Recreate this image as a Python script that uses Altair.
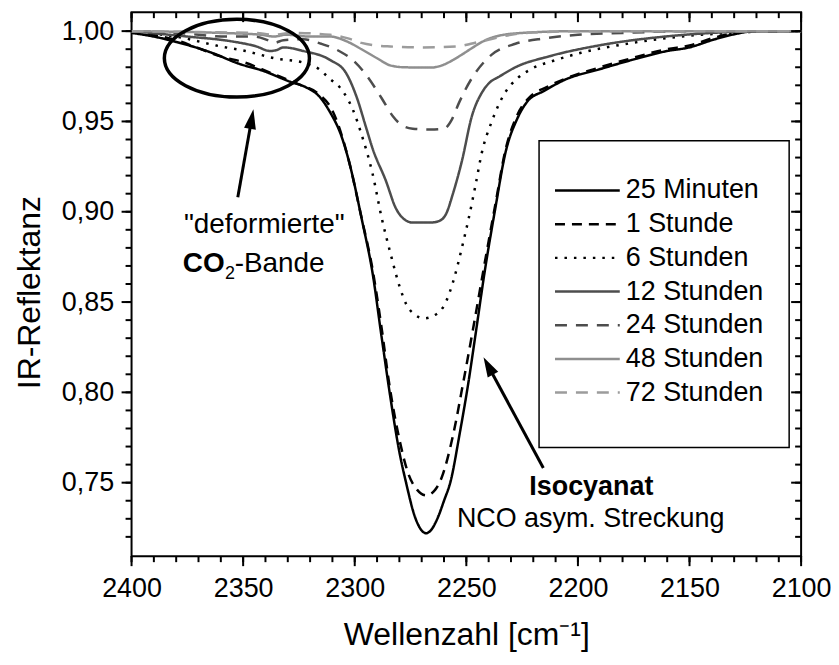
import math
import altair as alt
import pandas as pd

# ---------------- data ----------------
series_names = ["25 Minuten", "1 Stunde", "6 Stunden", "12 Stunden",
                "24 Stunden", "48 Stunden", "72 Stunden"]
series_colors = ["#000000", "#000000", "#000000", "#4d4d4d",
                 "#4d4d4d", "#8f8f8f", "#9c9c9c"]
series_dashes = [[1, 0], [10, 7], [2.5, 7], [1, 0], [12, 9], [1, 0], [12, 9]]

wn_25min = [2400, 2390, 2380, 2370, 2364, 2352, 2341, 2329, 2322, 2316, 2311, 2306, 2302.6, 2296.7,
            2292, 2288, 2284, 2280, 2277, 2273, 2270, 2268, 2266, 2263, 2260, 2257, 2253, 2249, 2246,
            2241.5, 2237, 2232.6, 2227, 2222.7, 2215, 2206, 2190, 2176, 2160, 2150, 2140, 2131, 2120, 2100]
r_25min = [0.999, 0.997, 0.994, 0.9905, 0.988, 0.982, 0.978, 0.972, 0.969, 0.964, 0.955, 0.942, 0.928, 0.895,
           0.866, 0.831, 0.797, 0.767, 0.750, 0.731, 0.7235, 0.722, 0.7235, 0.730, 0.740, 0.751, 0.777, 0.806,
           0.831, 0.869, 0.902, 0.932, 0.952, 0.961, 0.967, 0.973, 0.979, 0.984, 0.989, 0.991, 0.995, 0.998,
           1.0, 1.0]

wn_1h = [2400, 2390, 2380, 2371, 2360, 2349, 2338, 2325, 2316, 2310, 2306, 2303, 2297, 2292, 2288, 2284.7,
         2280, 2276, 2272, 2268, 2264, 2261, 2256, 2251.3, 2247, 2242, 2237, 2232.5, 2227, 2222, 2214, 2205,
         2190, 2176, 2160, 2150, 2140, 2130, 2120, 2100]
r_1h = [1.0, 0.998, 0.995, 0.991, 0.986, 0.9825, 0.977, 0.9705, 0.965, 0.956, 0.943, 0.930, 0.897, 0.868,
        0.836, 0.806, 0.774, 0.755, 0.746, 0.743, 0.746, 0.753, 0.776, 0.806, 0.835, 0.870, 0.904, 0.934,
        0.954, 0.963, 0.969, 0.974, 0.980, 0.985, 0.990, 0.992, 0.996, 0.999, 1.0, 1.0]

wn_6h = [2400, 2376, 2362, 2349, 2336, 2323, 2316, 2311.5, 2305.5, 2301, 2297, 2292, 2288, 2284, 2280, 2277,
         2273, 2269, 2265.5, 2260, 2255.5, 2252, 2249, 2246, 2243, 2238.6, 2232.6, 2227, 2221, 2210, 2198.6,
         2176, 2154, 2131.5, 2110, 2100]
r_6h = [1.0, 0.996, 0.992, 0.989, 0.985, 0.9825, 0.979, 0.974, 0.967, 0.957, 0.943, 0.921, 0.897, 0.877,
        0.859, 0.849, 0.843, 0.841, 0.842, 0.848, 0.863, 0.880, 0.896, 0.914, 0.933, 0.950, 0.966, 0.974,
        0.979, 0.984, 0.988, 0.9934, 0.997, 0.999, 1.0, 1.0]

wn_12h = [2400, 2375, 2356, 2344, 2338, 2335, 2332, 2323, 2311, 2304, 2299, 2295, 2292, 2286, 2281.6, 2278,
          2274, 2266, 2262, 2259, 2256, 2252, 2247.5, 2243, 2240, 2235, 2228, 2213, 2191, 2161, 2140, 2120, 2100]
r_12h = [1.0, 0.997, 0.9945, 0.9915, 0.989, 0.9895, 0.991, 0.989, 0.984, 0.977, 0.963, 0.947, 0.935, 0.917,
         0.902, 0.896, 0.894, 0.894, 0.895, 0.899, 0.910, 0.928, 0.953, 0.966, 0.971, 0.975, 0.980, 0.986,
         0.992, 0.997, 0.999, 1.0, 1.0]

wn_24h = [2400, 2380, 2357, 2345, 2339, 2336, 2332, 2323, 2315, 2307, 2300, 2295, 2288, 2283, 2279, 2274,
          2266, 2260, 2256.5, 2253.4, 2247.5, 2242, 2238.6, 2228, 2215, 2200, 2180, 2150, 2100]
r_24h = [1.0, 0.999, 0.997, 0.997, 0.995, 0.9935, 0.995, 0.9955, 0.993, 0.989, 0.983, 0.976, 0.963, 0.953,
         0.948, 0.946, 0.9455, 0.946, 0.951, 0.960, 0.974, 0.983, 0.987, 0.993, 0.996, 0.998, 0.999, 1.0, 1.0]

wn_48h = [2400, 2360, 2342, 2336, 2331, 2320, 2311, 2303, 2297, 2290, 2284, 2278, 2266, 2261, 2256, 2252,
          2247, 2243, 2237, 2225, 2200, 2100]
r_48h = [1.0, 0.999, 0.998, 0.997, 0.998, 0.997, 0.997, 0.994, 0.990, 0.985, 0.981, 0.980, 0.9798, 0.981,
         0.984, 0.987, 0.991, 0.994, 0.997, 0.999, 1.0, 1.0]

wn_72h = [2400, 2370, 2345, 2336, 2328, 2311, 2303, 2297, 2290, 2284, 2270, 2254, 2248, 2241, 2230, 2215,
          2200, 2100]
r_72h = [1.0, 0.9995, 0.999, 0.998, 0.999, 0.998, 0.996, 0.9935, 0.992, 0.9915, 0.991, 0.9915, 0.993, 0.995,
         0.998, 0.9995, 1.0, 1.0]

x_major = [2400, 2350, 2300, 2250, 2200, 2150, 2100]
x_minor = list(range(2100, 2401, 10))
y_major = [0.75, 0.80, 0.85, 0.90, 0.95, 1.00]
y_minor = [round(0.72 + 0.01 * i, 2) for i in range(29)]

# annotations (data coordinates)
note_text = ['"deformierte"', "CO", "2", "-Bande", "Isocyanat", "NCO asym. Streckung"]
note_wn = [2340.5, 2358.3, 2358.1, 2353.8, 2194.0, 2194.3]
note_r = [0.8925, 0.871, 0.8655, 0.871, 0.7474, 0.7297]
note_size = [28, 28, 18, 28, 27, 27]
note_weight = ["normal", "bold", "normal", "normal", "bold", "normal"]
note_align = ["center", "right", "left", "left", "center", "center"]

ellipse_wn = [2352.8]
ellipse_r = [0.985]

arrow_tail_wn = [2352.4, 2215.5]
arrow_tail_r = [0.908, 0.7581]
arrow_tip_wn = [2345.4, 2242.3]
arrow_tip_r = [0.9568, 0.8195]

# ---------------- geometry ----------------
W, H = 672, 546
X_DOMAIN = [2100, 2400]
Y_DOMAIN = [0.7093, 1.0105]
PX_X = W / (X_DOMAIN[1] - X_DOMAIN[0])
PX_Y = H / (Y_DOMAIN[1] - Y_DOMAIN[0])

x_scale = alt.Scale(domain=X_DOMAIN, reverse=True, nice=False, zero=False)
y_scale = alt.Scale(domain=Y_DOMAIN, nice=False, zero=False)

rows = []
for name, wn, rr in zip(series_names,
                        [wn_25min, wn_1h, wn_6h, wn_12h, wn_24h, wn_48h, wn_72h],
                        [r_25min, r_1h, r_6h, r_12h, r_24h, r_48h, r_72h]):
    for a, b in zip(wn, rr):
        rows.append({"series": name, "wn": a, "refl": b})
df = pd.DataFrame(rows)

color_enc = alt.Color("series:N", scale=alt.Scale(domain=series_names, range=series_colors), legend=None)
dash_enc = alt.StrokeDash("series:N", scale=alt.Scale(domain=series_names, range=series_dashes), legend=None)

label_expr = "replace(format(datum.value, '.2f'), '.', ',')"

lines = alt.Chart(df).mark_line(strokeWidth=2.5, interpolate="monotone").encode(
    x=alt.X("wn:Q", scale=x_scale, axis=alt.Axis(
        orient="bottom", values=x_major, format="d", labelFlush=False, ticks=False, tickSize=0,
        labelPadding=40, labelBaseline="alphabetic", labelFontSize=27,
        title="Wellenzahl [cm⁻¹]", titleFontSize=32, titleY=89, titleBaseline="alphabetic",
        domain=False, grid=False)),
    y=alt.Y("refl:Q", scale=y_scale, axis=alt.Axis(
        orient="left", values=y_major, labelExpr=label_expr, ticks=False, tickSize=0, labelPadding=18,
        labelFontSize=27, title="IR-Reflektanz", titleFontSize=32, titleX=-92, titleY=281,
        titleAngle=270, titleBaseline="alphabetic", domain=False, grid=False)),
    color=color_enc,
    strokeDash=dash_enc,
    detail="series:N",
    order=alt.Order("wn:Q", sort="descending"),
)


# ---- tick marks on all four sides (outward left/bottom, inward top/right) ----
def tick_layer(vals, channel, a, b):
    d = pd.DataFrame({"v": vals})
    m = alt.Chart(d).mark_rule(strokeWidth=2, color="black")
    if channel == "x":
        return m.encode(x=alt.X("v:Q", scale=x_scale, axis=None), y=alt.value(a), y2=alt.value(b))
    return m.encode(y=alt.Y("v:Q", scale=y_scale, axis=None), x=alt.value(a), x2=alt.value(b))


tick_layers = [
    tick_layer(x_major, "x", H, H + 10), tick_layer(x_minor, "x", H, H + 6),
    tick_layer(x_major, "x", 0, 10), tick_layer(x_minor, "x", 0, 6),
    tick_layer(y_major, "y", -10, 0), tick_layer(y_minor, "y", -6, 0),
    tick_layer(y_major, "y", W - 10, W), tick_layer(y_minor, "y", W - 6, W),
]

# ---- legend (drawn manually, pixel layout inside plot) ----
legend_df = pd.DataFrame({"series": series_names, "row": list(range(len(series_names)))})
legend_base = alt.Chart(legend_df).transform_calculate(py="179 + datum.row * 33.8")
legend_box = alt.Chart(pd.DataFrame({"k": [0]})).mark_rect(
    fill="white", stroke="black", strokeWidth=1.5).encode(
    x=alt.value(409), x2=alt.value(660), y=alt.value(129), y2=alt.value(437))
legend_lines = legend_base.mark_rule(strokeWidth=2.5).encode(
    x=alt.value(425), x2=alt.value(490),
    y=alt.Y("py:Q", scale=None, axis=None),
    color=color_enc, strokeDash=dash_enc)
legend_text = legend_base.mark_text(align="left", baseline="middle", fontSize=27, color="black").encode(
    x=alt.value(496), y=alt.Y("py:Q", scale=None, axis=None), text="series:N")

# ---- annotations ----
note_layers = []
for t, w, r, s, fw, al in zip(note_text, note_wn, note_r, note_size, note_weight, note_align):
    d = pd.DataFrame({"t": [t], "w": [w], "r": [r]})
    note_layers.append(
        alt.Chart(d).mark_text(fontSize=s, fontWeight=fw, align=al, baseline="middle", color="black").encode(
            x=alt.X("w:Q", scale=x_scale, axis=None),
            y=alt.Y("r:Q", scale=y_scale, axis=None),
            text="t:N"))

b = 0.536
k = 0.5523
ELLIPSE_PATH = (f"M-1,0C-1,{-k*b:.4f},{-k:.4f},{-b},0,{-b}C{k:.4f},{-b},1,{-k*b:.4f},1,0"
                f"C1,{k*b:.4f},{k:.4f},{b},0,{b}C{-k:.4f},{b},-1,{k*b:.4f},-1,0Z")
ellipse = alt.Chart(pd.DataFrame({"w": ellipse_wn, "r": ellipse_r})).mark_point(
    shape=ELLIPSE_PATH, filled=False, color="black", strokeWidth=3.5, size=145.6 ** 2, opacity=1).encode(
    x=alt.X("w:Q", scale=x_scale, axis=None), y=alt.Y("r:Q", scale=y_scale, axis=None))

ARROW_PATH = "M0,0L0.6,2L-0.6,2Z"
HEAD_BACK = 14.0
arrow_rows = []
for tw, tr, hw, hr in zip(arrow_tail_wn, arrow_tail_r, arrow_tip_wn, arrow_tip_r):
    dx = (tw - hw) * PX_X          # pixel dx tail->tip (reversed x axis)
    dy = -(hr - tr) * PX_Y         # pixel dy tail->tip
    length = math.hypot(dx, dy)
    ang = math.degrees(math.atan2(dx, -dy)) % 360
    f = HEAD_BACK / length
    sw = hw + (tw - hw) * f
    sr = hr + (tr - hr) * f
    arrow_rows.append({"tw": tw, "tr": tr, "sw": sw, "sr": sr, "hw": hw, "hr": hr, "ang": ang})
arrow_df = pd.DataFrame(arrow_rows)
arrow_shafts = alt.Chart(arrow_df).mark_rule(strokeWidth=3, color="black").encode(
    x=alt.X("tw:Q", scale=x_scale, axis=None), x2="sw:Q",
    y=alt.Y("tr:Q", scale=y_scale, axis=None), y2="sr:Q")
arrow_heads = alt.Chart(arrow_df).mark_point(
    shape=ARROW_PATH, filled=True, color="black", size=400, opacity=1, strokeWidth=0).encode(
    x=alt.X("hw:Q", scale=x_scale, axis=None),
    y=alt.Y("hr:Q", scale=y_scale, axis=None),
    angle=alt.Angle("ang:Q", scale=None))

layers = ([lines, legend_box, legend_lines, legend_text, ellipse, arrow_shafts, arrow_heads]
          + note_layers + tick_layers)

chart = alt.layer(*layers).resolve_axis(
    x="independent", y="independent"
).properties(
    width=W, height=H,
    autosize=alt.AutoSizeParams(type="none"),
    padding={"left": 124, "top": 3, "right": 30, "bottom": 100},
).configure(
    font="Liberation Sans"
).configure_view(
    stroke="black", strokeWidth=2
).configure_axis(
    labelColor="black", titleColor="black",
    labelFont="Liberation Sans", titleFont="Liberation Sans", titleFontWeight="normal"
)

chart.save("out.html", embed_options={"renderer": "svg", "actions": False})
